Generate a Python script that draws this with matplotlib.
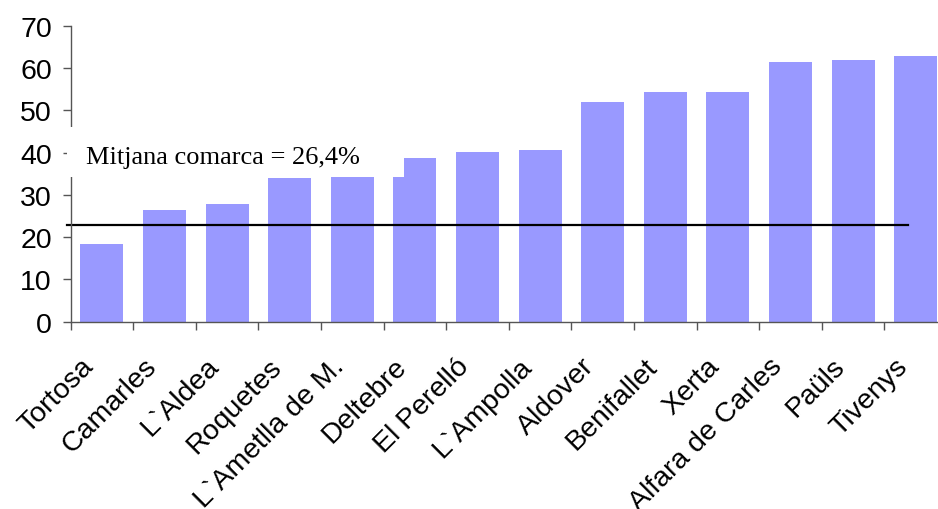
import matplotlib
matplotlib.use("Agg")
import matplotlib.pyplot as plt
from matplotlib.patches import Rectangle
import matplotlib.transforms as mtransforms
import numpy as np

# values
municipis = [
    "Tortosa", "Camarles", "L`Aldea", "Roquetes", "L`Ametlla de M.",
    "Deltebre", "El Perelló", "L`Ampolla", "Aldover", "Benifallet",
    "Xerta", "Alfara de Carles", "Paüls", "Tivenys",
]
valors = [18.4, 26.4, 27.8, 34.0, 35.0, 38.7, 40.1, 40.6,
          52.0, 54.3, 54.3, 61.4, 61.9, 62.8]
mitjana = 22.9
etiqueta_mitjana = "Mitjana comarca = 26,4%"
yticks = [0, 10, 20, 30, 40, 50, 60, 70]

fig = plt.figure(figsize=(9.38, 5.10), dpi=100)
ax = fig.add_axes([70.6 / 938, 0.3673, 876.4 / 938, 0.5804])

x = np.arange(len(municipis))
ax.bar(x, valors, width=0.69, color="#9999FF", zorder=1)
ax.plot([-0.56, 12.87], [mitjana, mitjana], color="black", lw=1.6, zorder=2,
        clip_on=False)

ax.set_xlim(-0.5, len(municipis) - 0.5)
ax.set_ylim(0, 70)

for s in ["top", "right"]:
    ax.spines[s].set_visible(False)
for s in ["left", "bottom"]:
    ax.spines[s].set_color("#555555")
    ax.spines[s].set_linewidth(1.0)

ax.set_yticks(yticks)
ax.set_yticklabels([str(v) for v in yticks], fontsize=20.5,
                   family="Liberation Sans")
ax.tick_params(axis="y", length=5.5, width=1, color="#555555", pad=8)

ax.set_xticks(x)
ax.set_xticklabels(municipis, fontsize=20.5, family="Liberation Sans",
                   rotation=45, ha="right", va="center",
                   rotation_mode="anchor")
ax.tick_params(axis="x", which="major", length=0, pad=29)
ax.set_xticks(np.arange(-0.5, len(municipis), 1), minor=True)
ax.tick_params(axis="x", which="minor", length=5.5, width=1,
               color="#555555")
offset = mtransforms.ScaledTranslation(-12 / 100, 0, fig.dpi_scale_trans)
for lbl in ax.get_xticklabels():
    lbl.set_transform(lbl.get_transform() + offset)

# white box behind the average label (covers part of the axis and bars)
ax.add_patch(Rectangle((-0.55, 34.2), 5.37, 11.9, facecolor="white",
                       edgecolor="none", zorder=5, clip_on=False))
ax.text(-0.254, 37.5, etiqueta_mitjana, fontsize=19,
        family="Liberation Serif", va="baseline", ha="left", zorder=6)

fig.savefig("out.png", dpi=100)
